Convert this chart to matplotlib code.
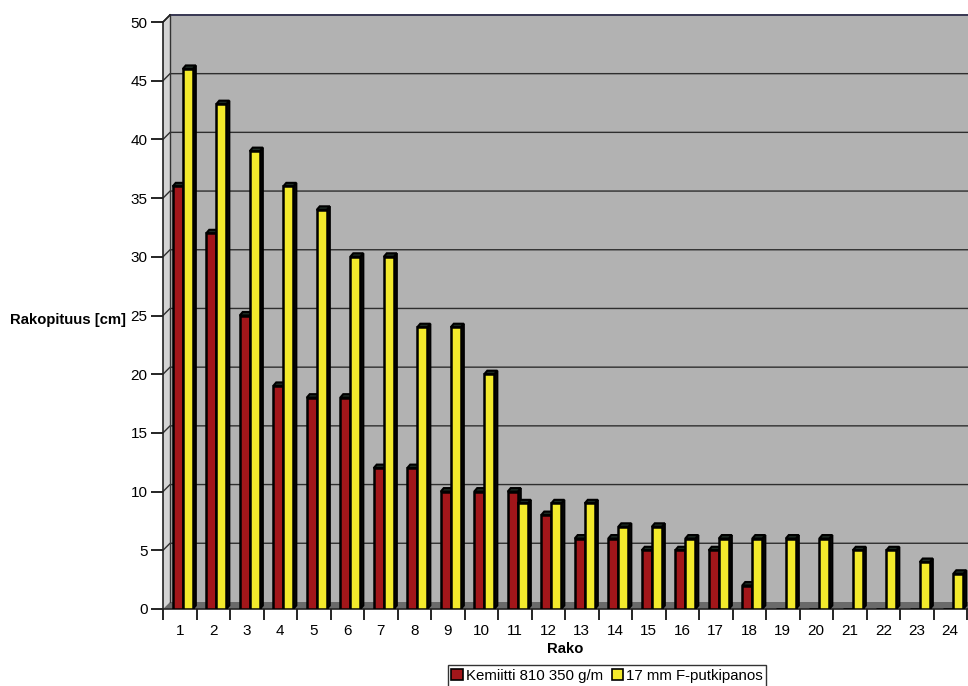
import numpy as np
import matplotlib.pyplot as plt
from matplotlib.patches import Polygon, Patch

plt.rcParams['font.family'] = ['Liberation Sans', 'DejaVu Sans']

rako = [str(i) for i in range(1, 25)]
kemiitti = [36, 32, 25, 19, 18, 18, 12, 12, 10, 10, 10, 8,
            6, 6, 5, 5, 5, 2, 0, 0, 0, 0, 0, 0]
putkipanos = [46, 43, 39, 36, 34, 30, 30, 24, 24, 20, 9, 9,
              9, 7, 7, 6, 6, 6, 6, 6, 5, 5, 4, 3]
series_names = ['Kemiitti 810 350 g/m', '17 mm F-putkipanos']
series_colors = ['#a2161a', '#f3ea2c']
yticks = [0, 5, 10, 15, 20, 25, 30, 35, 40, 45, 50]

W, H = 968, 686
fig = plt.figure(figsize=(W / 100, H / 100), dpi=100)
ax = fig.add_axes([163 / W, (H - 609) / H, (W - 163) / W, 587 / H])
n = len(rako)
ax.set_xlim(0, n * 805 / 804)
ax.set_ylim(0, 50)

# depth offsets of the pseudo-3D walls (data units)
dx, dy = 0.21, 0.6
xend = n + 1

# back wall, side wall and floor
ax.add_patch(Polygon([(dx, dy), (xend, dy), (xend, 50 + dy), (dx, 50 + dy)],
                     closed=True, facecolor='#b2b2b2', edgecolor='none',
                     zorder=0, clip_on=False))
ax.add_patch(Polygon([(0, 0), (dx, dy), (dx, 50 + dy), (0, 50)],
                     closed=True, facecolor='#d4d4d4', edgecolor='none',
                     zorder=0, clip_on=False))
ax.add_patch(Polygon([(0, 0), (xend, 0), (xend, dy), (dx, dy)],
                     closed=True, facecolor='#6a6a6a', edgecolor='none',
                     zorder=0.5, clip_on=False))

# gridlines on the wall
for v in yticks[1:]:
    ax.plot([0, dx, xend], [v, v + dy, v + dy], color='#2e2e2e', lw=1.0,
            zorder=1, clip_on=False)
ax.plot([dx, dx], [dy, 50 + dy], color='#333333', lw=1.0, zorder=1,
        clip_on=False)
ax.plot([dx, xend], [50 + dy, 50 + dy], color='#3a3a55', lw=1.4, zorder=1,
        clip_on=False)

# bars: front face with ax.bar, then side and top faces
bw, sx, sy = 0.30, 0.09, 0.30
offsets = [0.29, 0.59]
x = np.arange(n)
for k, (vals, col) in enumerate(zip([kemiitti, putkipanos], series_colors)):
    lefts = x + offsets[k]
    ax.bar(lefts, vals, width=bw, align='edge', color=col,
           edgecolor='black', linewidth=1.8, zorder=3 + k)
    for left, v in zip(lefts, vals):
        if v <= 0:
            continue
        r = left + bw
        side = [(r, 0), (r + sx, sy), (r + sx, v + sy), (r, v)]
        top = [(left, v), (r, v), (r + sx, v + sy), (left + sx, v + sy)]
        ax.add_patch(Polygon(side, closed=True, facecolor='#151515',
                             edgecolor='black', lw=1.5, zorder=2.9 + k))
        ax.add_patch(Polygon(top, closed=True, facecolor='#1c2a22',
                             edgecolor='black', lw=1.5, zorder=2.9 + k))

# axes
for s in ['top', 'right']:
    ax.spines[s].set_visible(False)
ax.spines['left'].set_color('#222222')
ax.spines['bottom'].set_color('#222222')
ax.spines['left'].set_linewidth(1.2)
ax.spines['bottom'].set_linewidth(1.2)
ax.plot([0, dx], [50, 50 + dy], color='#222222', lw=1.2, zorder=1,
        clip_on=False)
ax.set_facecolor('none')

ax.set_yticks(yticks)
ax.tick_params(axis='y', length=9, width=1.2, labelsize=11, pad=2)
ax.set_xticks(np.arange(n + 1))
ax.set_xticklabels([])
ax.set_xticks(x + 0.5, minor=True)
ax.set_xticklabels(rako, minor=True)
ax.tick_params(axis='x', which='major', length=8, width=1.2)
ax.tick_params(axis='x', which='minor', length=0, labelsize=11, pad=11)
ax.set_xlabel('Rako', fontsize=10.7, fontweight='bold', labelpad=3)

fig.text(10 / W, 1 - 320 / H, 'Rakopituus [cm]', fontsize=10.7,
         fontweight='bold', ha='left', va='center')

handles = [Patch(facecolor=c, edgecolor='black', lw=1.2) for c in series_colors]
leg = fig.legend(handles, series_names, loc='center', ncol=2,
                 bbox_to_anchor=(607 / W, 1 - 676 / H), fontsize=10.8,
                 frameon=True, fancybox=False, handlelength=0.75,
                 handleheight=0.75, handletextpad=0.2, columnspacing=0.6,
                 borderpad=0.25, borderaxespad=0)
leg.get_frame().set_edgecolor('black')
leg.get_frame().set_linewidth(1.0)

fig.savefig('out.png', dpi=100, facecolor='white')
